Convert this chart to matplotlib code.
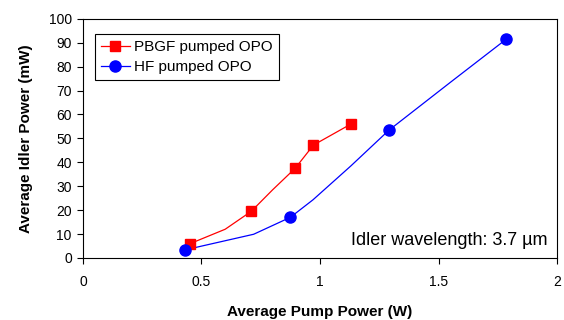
import matplotlib
matplotlib.use("Agg")
import matplotlib.pyplot as plt

plt.rcParams['font.family'] = ['Liberation Sans', 'DejaVu Sans']

# measured points
pbgf_x = [0.45, 0.71, 0.895, 0.972, 1.13]
pbgf_y = [5.9, 19.5, 37.5, 47.2, 56.0]
hf_x = [0.432, 0.875, 1.29, 1.785]
hf_y = [3.4, 17.0, 53.4, 91.5]

# smoothed curves drawn through the points (as in the original)
pbgf_curve_x = [0.45, 0.60, 0.71, 0.80, 0.895, 0.972, 1.13]
pbgf_curve_y = [5.9, 12.0, 19.5, 28.5, 37.5, 47.2, 56.0]
hf_curve_x = [0.432, 0.72, 0.875, 0.97, 1.13, 1.29, 1.55, 1.785]
hf_curve_y = [3.4, 9.9, 17.0, 24.3, 38.5, 53.4, 73.5, 91.5]

x_ticks = [0, 0.5, 1, 1.5, 2]
x_labels = ['0', '0.5', '1', '1.5', '2']
y_ticks = list(range(0, 101, 10))

fig = plt.figure(figsize=(5.64, 3.2), dpi=100)
ax = fig.add_axes([0.147, 0.194, 0.841, 0.747])

ax.plot(pbgf_curve_x, pbgf_curve_y, color='#FF0000', lw=0.9)
ax.plot(hf_curve_x, hf_curve_y, color='#0000FF', lw=0.9)
ax.plot(pbgf_x, pbgf_y, ls='none', marker='s', ms=7.5, color='#FF0000')
ax.plot(hf_x, hf_y, ls='none', marker='o', ms=8, color='#0000FF')

# legend proxies
ax.plot([], [], color='#FF0000', lw=0.9, marker='s', ms=7.5, label='PBGF pumped OPO')
ax.plot([], [], color='#0000FF', lw=0.9, marker='o', ms=8, label='HF pumped OPO')
leg = ax.legend(loc='upper left', bbox_to_anchor=(0.025, 0.937), borderaxespad=0,
                fontsize=11, frameon=True, fancybox=False, edgecolor='black',
                framealpha=1, handlelength=1.9, borderpad=0.4, labelspacing=0.38,
                handletextpad=0.3)
leg.get_frame().set_linewidth(0.8)

ax.text(1.96, 5.4, 'Idler wavelength: 3.7 µm', ha='right', va='baseline', fontsize=13)

ax.set_xlim(0, 2)
ax.set_ylim(0, 100)
ax.set_xticks(x_ticks)
ax.set_xticklabels(x_labels)
ax.set_yticks(y_ticks)
ax.tick_params(axis='both', direction='out', length=4, width=0.8, labelsize=10, pad=8)
ax.tick_params(axis='y', pad=4)
for s in ax.spines.values():
    s.set_linewidth(0.8)

ax.set_xlabel('Average Pump Power (W)', fontsize=11, fontweight='bold', labelpad=12)
ax.set_ylabel('Average Idler Power (mW)', fontsize=11, fontweight='bold', labelpad=11)

fig.savefig('out.png', dpi=100)
